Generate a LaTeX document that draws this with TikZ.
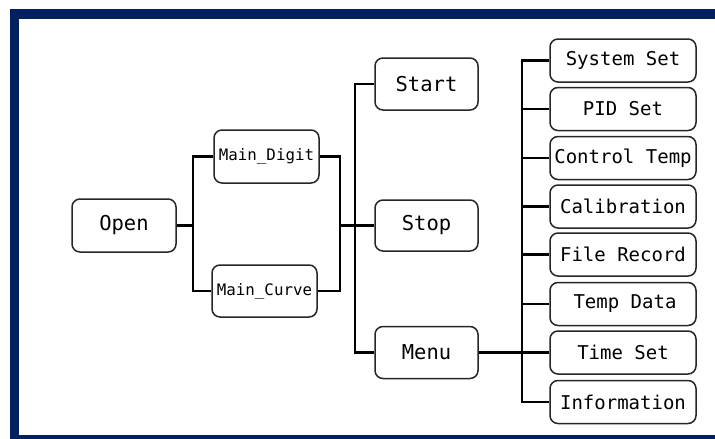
\documentclass[tikz,border=0pt]{standalone}
\usepackage{fontspec}
\setmonofont{DejaVu Sans Mono}
\definecolor{navy}{HTML}{002060}
\begin{document}
\begin{tikzpicture}[x=1pt,y=-1pt,
  box/.style={draw=black!85, line width=1.5pt, rounded corners=8pt, inner sep=0pt, fill=white, font=\ttfamily},
  midbox/.style={box, minimum width=103pt, minimum height=52pt, font=\ttfamily\fontsize{20.5}{22}\selectfont},
  mainbox/.style={box, minimum width=105pt, minimum height=53pt, font=\ttfamily\fontsize{15.8}{17}\selectfont},
  subbox/.style={box, minimum width=146pt, minimum height=43pt, font=\ttfamily\fontsize{19}{21}\selectfont},
  conn/.style={line width=2.7pt, black}]
\useasboundingbox (0,0) rectangle (715,439);
\fill[white] (0,0) rectangle (715,439);
% frame
\fill[navy] (10,9) rectangle (715,19);
\fill[navy] (10,9) rectangle (19,439);
\fill[navy] (10,435) rectangle (715,439);
% nodes
\node[midbox, minimum width=104pt, minimum height=53pt] (open) at (124,225.5) {Open};
\node[mainbox] (dig) at (266.5,156.5) {Main\_Digit};
\node[mainbox, minimum height=52pt] (cur) at (264.5,291) {Main\_Curve};
\node[midbox] (start) at (426.5,84) {Start};
\node[midbox, minimum height=51pt] (stop) at (426.5,225.5) {Stop};
\node[midbox] (menu) at (426.5,352.5) {Menu};
\node[subbox] (s1) at (623,60.5) {System Set\hspace{10pt}};
\node[subbox] (s2) at (623,109) {PID Set\hspace{18pt}};
\node[subbox] (s3) at (623,158) {Control Temp};
\node[subbox] (s4) at (623,206.5) {Calibration};
\node[subbox] (s5) at (623,254.5) {File Record};
\node[subbox] (s6) at (623,304) {\hspace{4pt}Temp Data};
\node[subbox] (s7) at (623,352.5) {Time Set};
\node[subbox] (s8) at (623,402) {Information};
% junction coordinates
\coordinate (j1) at (193,225.5);
\coordinate (j2) at (340,225.5);
\coordinate (j3) at (355,225.5);
\coordinate (j4) at (522,352.5);
% connectors
\draw[conn] (open.east) -- (j1);
\draw[conn] (dig.west) -- (dig.west -| j1) -- (cur.west -| j1) -- (cur.west);
\draw[conn] (dig.east) -- (dig.east -| j2) -- (cur.east -| j2) -- (cur.east);
\draw[conn] (j2) -- (stop.west);
\draw[conn] (start.west) -- (start.west -| j3) -- (menu.west -| j3) -- (menu.west);
\draw[conn] (menu.east) -- (s7.west);
\draw[conn] (s1.west) -- (s1.west -| j4) -- (s8.west -| j4) -- (s8.west);
\foreach \n in {s2,s3,s4,s5,s6}{\draw[conn] (\n.west) -- (\n.west -| j4);}
\end{tikzpicture}
\end{document}
